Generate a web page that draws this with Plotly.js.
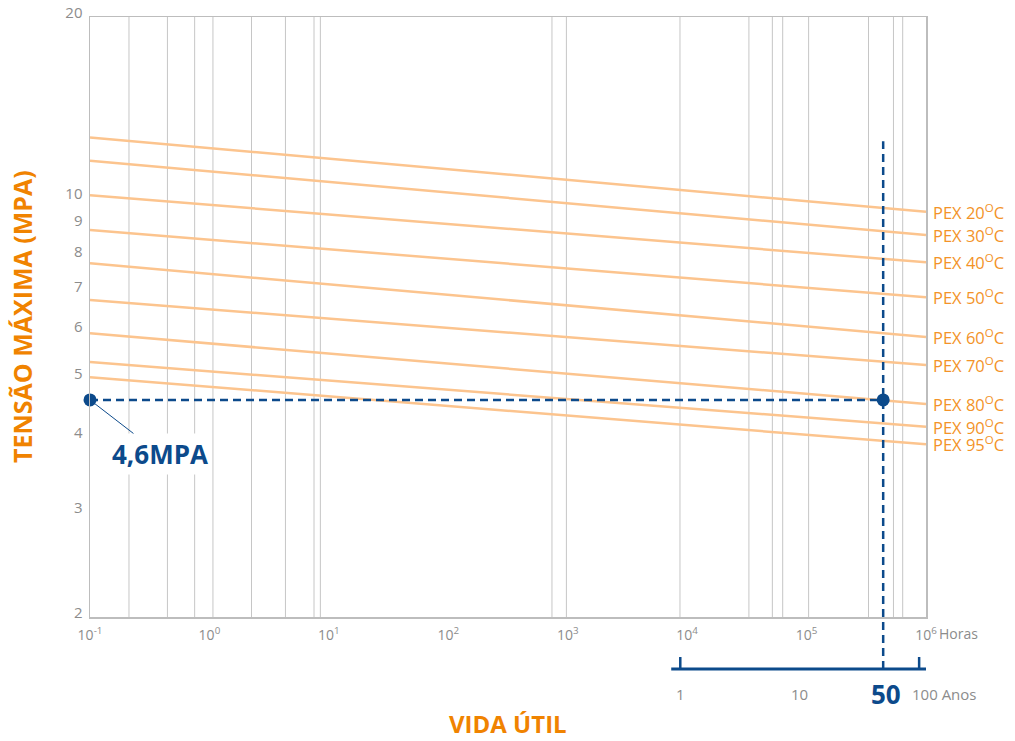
<!DOCTYPE html>
<html>
<head>
<meta charset="utf-8">
<script src="https://cdn.plot.ly/plotly-3.0.1.min.js"></script>
<style>html,body{margin:0;padding:0;background:#fff;}#chart{width:1015px;height:741px;}</style>
</head>
<body>
<div id="chart"></div>
<script>
// ---- data ----
const temps = ['20', '30', '40', '50', '60', '70', '80', '90', '95'];
const hoursRange = [0.1, 1e6];
const stressStart = [12.6, 11.52, 10.09, 8.83, 7.77, 6.75, 5.94, 5.32, 5.02];
const stressEnd = [9.47, 8.66, 7.80, 6.82, 5.86, 5.26, 4.53, 4.15, 3.88];
const gridHours = [0.212, 0.445, 0.752, 1.07, 2.25, 4.33, 7.51, 8.49, 738, 975, 8710, 32900, 51700, 63100, 104000, 330000, 534000, 638000];
const xTickVals = [0.1, 1, 10, 100, 1000, 1e4, 1e5, 1e6];
const xTickText = ['10<sup>-1</sup>', '10<sup>0</sup>', '10<sup>1</sup>', '10<sup>2</sup>', '10<sup>3</sup>', '10<sup>4</sup>', '10<sup>5</sup>', '10<sup>6</sup>'];
const yTickVals = [2, 3, 4, 5, 6, 7, 8, 9, 10, 20];
const yearTicks = [1, 10, 50, 100];
const yearLabels = ['1', '10', '<b>50</b>', '100 Anos'];
const HOURS_PER_YEAR = 8760;
const designYears = 50;
const designStress = 4.6;
const designLabel = '<b>4,6MPA</b>';

// ---- styles ----
const lg = Math.log10;
const lineColor = '#fcc48e';
const labelColor = '#f39328';
const titleColor = '#f08300';
const blue = '#0c4a8b';
const gray = '#8c8c8c';
const font = 'Open Sans, Noto Sans, sans-serif';
const designHours = designYears * HOURS_PER_YEAR;

const traces = temps.map((t, i) => ({
  type: 'scatter', mode: 'lines',
  x: hoursRange, y: [stressStart[i], stressEnd[i]],
  line: {color: lineColor, width: 2.5},
  name: 'PEX ' + t + '°C', showlegend: false, hoverinfo: 'skip'
}));
traces.push({
  type: 'scatter', mode: 'markers',
  x: [hoursRange[0], designHours], y: [designStress, designStress],
  marker: {color: blue, size: 13}, cliponaxis: false, showlegend: false, hoverinfo: 'skip'
});

// shapes on log axes take data values in Plotly v3
const yearAxisY = -0.0867;
const shapes = gridHours.map(h => ({
  type: 'line', xref: 'x', yref: 'paper', x0: h, x1: h, y0: 0, y1: 1,
  line: {color: '#c6c6c6', width: 1}, layer: 'below'
}));
shapes.push({
  type: 'line', xref: 'x', yref: 'y',
  x0: hoursRange[0], x1: designHours, y0: designStress, y1: designStress,
  line: {color: blue, width: 2.5, dash: '8px,5px'}
});
shapes.push({
  type: 'line', xref: 'x', yref: 'paper',
  x0: designHours, x1: designHours, y0: yearAxisY, y1: 0.793,
  line: {color: blue, width: 2.5, dash: '8px,5px'}
});
shapes.push({
  type: 'line', xref: 'x', yref: 'paper',
  x0: 0.84 * HOURS_PER_YEAR, x1: 125 * HOURS_PER_YEAR, y0: yearAxisY, y1: yearAxisY,
  line: {color: blue, width: 3}
});
[yearTicks[0], yearTicks[3]].forEach(yr => shapes.push({
  type: 'line', xref: 'x', yref: 'paper',
  x0: yr * HOURS_PER_YEAR, x1: yr * HOURS_PER_YEAR, y0: yearAxisY, y1: yearAxisY + 0.02,
  line: {color: blue, width: 2.5}
}));

// annotations on log axes take log values
const annotations = temps.map((t, i) => ({
  xref: 'x', yref: 'y', x: lg(hoursRange[1]), y: lg(stressEnd[i]),
  xanchor: 'left', yanchor: 'middle', xshift: 5, showarrow: false,
  text: 'PEX ' + t + '<sup>O</sup>C', font: {family: font, size: 16.5, color: labelColor}
}));
annotations.push({
  xref: 'x', yref: 'paper', x: lg(hoursRange[1]), y: -0.0283, xanchor: 'left', yanchor: 'middle',
  xshift: 11, showarrow: false, text: 'Horas', font: {family: font, size: 14, color: gray}
});
yearTicks.forEach((yr, i) => {
  const bold = yr === designYears;
  const last = i === yearTicks.length - 1;
  annotations.push({
    xref: 'x', yref: 'paper', x: lg(yr * HOURS_PER_YEAR), y: -0.128,
    xanchor: last ? 'left' : 'center', yanchor: 'middle', xshift: last ? -9 : (bold ? 3 : 0),
    showarrow: false, text: yearLabels[i],
    font: {family: font, size: bold ? 26 : 15, color: bold ? blue : gray}
  });
});
annotations.push({
  xref: 'x', yref: 'y', x: lg(hoursRange[0]), y: lg(designStress),
  ax: 70, ay: 54, showarrow: true, arrowhead: 0, arrowwidth: 1, arrowcolor: blue, standoff: 0,
  text: designLabel, bgcolor: '#ffffff', borderpad: 2,
  font: {family: font, size: 26, color: blue}
});
annotations.push({
  xref: 'paper', yref: 'paper', x: -0.0813, y: 0.5, xanchor: 'center', yanchor: 'middle',
  textangle: -90, showarrow: false, text: '<b>TENSÃO MÁXIMA (MPA)</b>',
  font: {family: font, size: 25, color: titleColor}
});
annotations.push({
  xref: 'paper', yref: 'paper', x: 0.5, y: -0.2067, xanchor: 'center', yanchor: 'bottom',
  showarrow: false, text: '<b>VIDA ÚTIL</b>', borderpad: 0,
  font: {family: font, size: 24, color: titleColor}
});

const layout = {
  width: 1015, height: 741,
  margin: {l: 90, r: 89, t: 17, b: 124},
  paper_bgcolor: '#ffffff', plot_bgcolor: '#ffffff',
  font: {family: font},
  showlegend: false,
  xaxis: {
    type: 'log', range: [lg(hoursRange[0]), lg(hoursRange[1])],
    tickvals: xTickVals, ticktext: xTickText, ticks: '', ticklabelstandoff: 5,
    showgrid: false, zeroline: false, showline: true, linecolor: '#bdbdbd', linewidth: 1.5, mirror: true,
    tickfont: {family: font, size: 14, color: gray}
  },
  yaxis: {
    type: 'log', range: [lg(2), lg(20)],
    tickvals: yTickVals, ticktext: yTickVals.map(String), ticks: '', ticklabelstandoff: 3, ticklabelshift: -4,
    showgrid: false, zeroline: false, showline: true, linecolor: '#bdbdbd', linewidth: 1.5, mirror: true,
    tickfont: {family: font, size: 15, color: gray}
  },
  shapes: shapes,
  annotations: annotations
};

Plotly.newPlot('chart', traces, layout, {staticPlot: true, displayModeBar: false});
</script>
</body>
</html>
